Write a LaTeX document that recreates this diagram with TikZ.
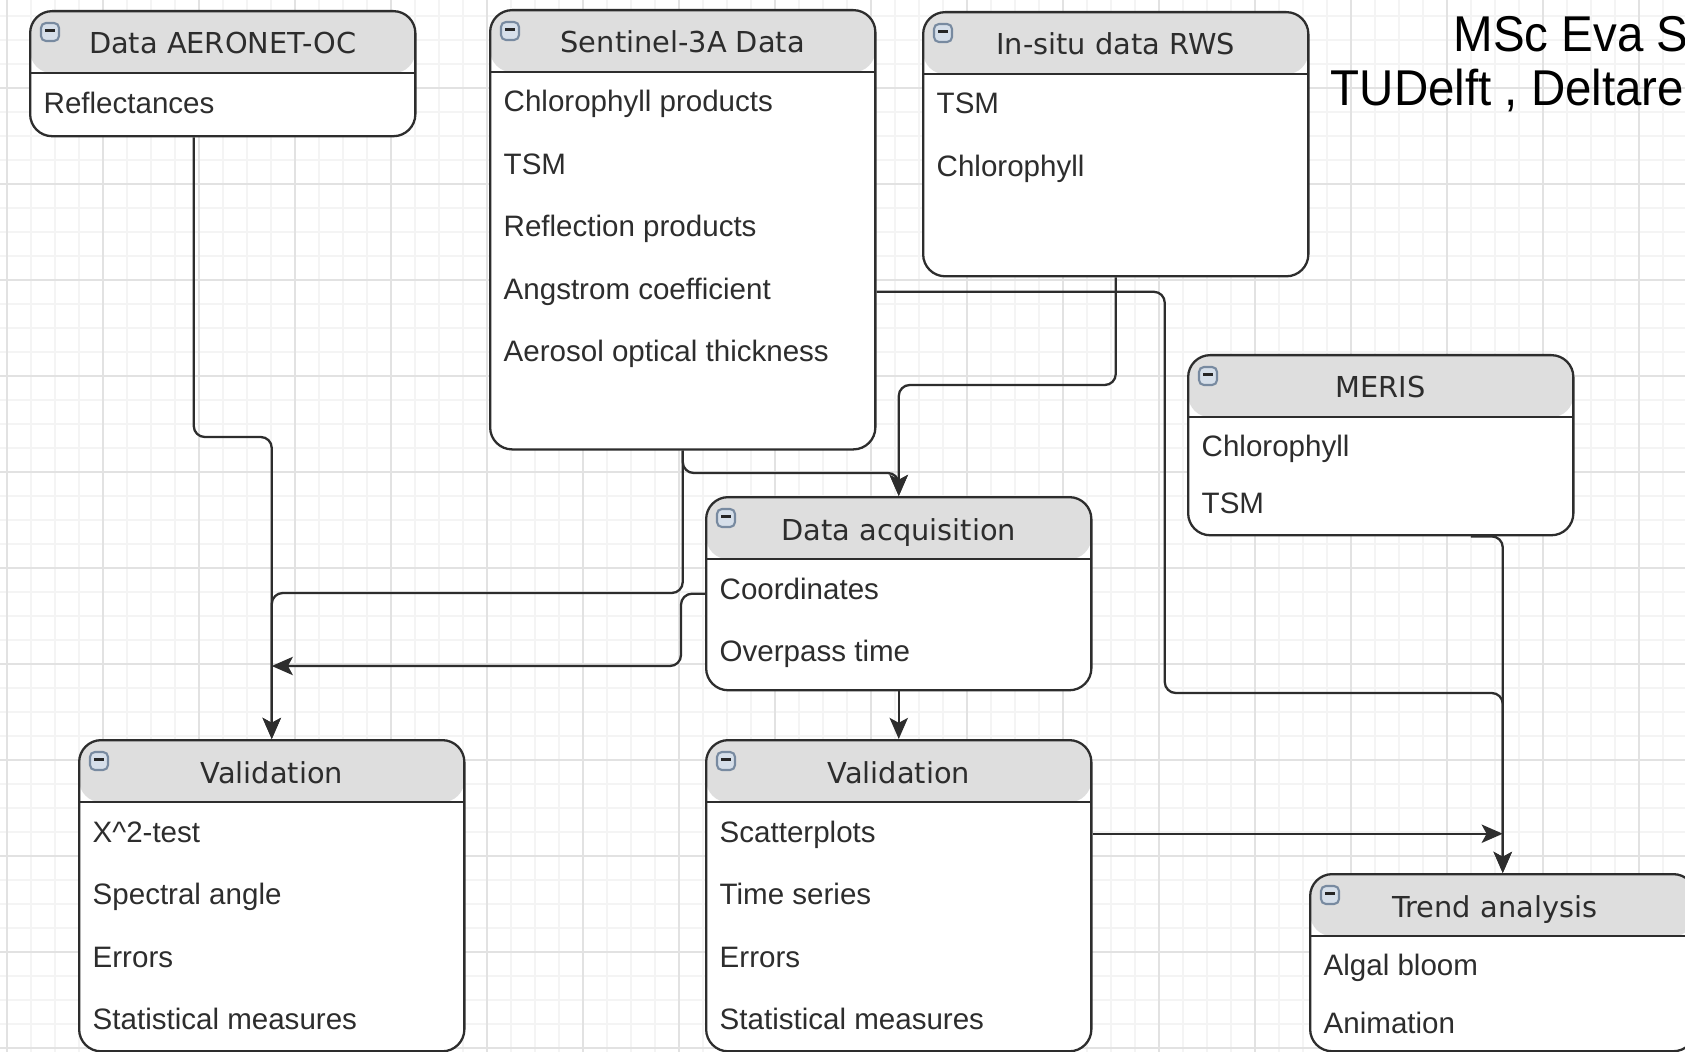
\documentclass[tikz,border=0pt]{standalone}
\usepackage{fontspec}
\setmainfont{Liberation Sans}
\newfontfamily\ttlfont{DejaVu Sans}
\newfontfamily\itemfont{Liberation Sans}
\usepackage{tikz}
\usetikzlibrary{calc}
\usetikzlibrary{arrows.meta}
\definecolor{hdrfill}{RGB}{222,222,222}
\definecolor{edge}{RGB}{45,45,45}
\definecolor{ink}{RGB}{45,45,45}
\definecolor{iconedge}{RGB}{120,138,160}
\definecolor{iconfill}{RGB}{214,223,234}
\definecolor{minorgrid}{RGB}{244,244,244}
\definecolor{majorgrid}{RGB}{226,226,226}

\begin{document}
\begin{tikzpicture}[x=0.01cm, y=-0.01cm,
    box/.style={draw=edge, line width=0.65pt, fill=white, rounded corners=0.22cm,
      minimum width=3.85cm, inner sep=0pt, anchor=north west,
      path picture={
        \fill[hdrfill] (path picture bounding box.north west) rectangle ([yshift=-0.62cm]path picture bounding box.north east);
        \draw[edge, line width=0.65pt] ([yshift=-0.62cm]path picture bounding box.north west) -- ([yshift=-0.62cm]path picture bounding box.north east);
      }},
    ttl/.style={anchor=base, inner sep=0pt, text=ink, font=\ttlfont\fontsize{8.2}{10}\selectfont},
    item/.style={anchor=base west, inner sep=0pt, text=ink, font=\itemfont\fontsize{8.4}{10}\selectfont},
    icon/.style={draw=iconedge, fill=iconfill, line width=0.6pt, rounded corners=1.4pt,
      minimum size=0.18cm, inner sep=0pt,
      path picture={\draw[black!85, line width=0.9pt] ([xshift=-0.05cm,yshift=0.015cm]path picture bounding box.center) -- ([xshift=0.05cm,yshift=0.015cm]path picture bounding box.center);}},
    arr/.style={draw=edge, line width=0.65pt, rounded corners=0.11cm, -{Stealth[length=6pt,width=5.2pt,inset=1.4pt]}},
    credit/.style={anchor=base west, inner sep=0pt, yscale=1.06, font=\fontsize{13.5}{16}\selectfont}]
    \useasboundingbox (0,0) rectangle (1685,1052);
    \clip (0,0) rectangle (1685,1052);

    % background grid
    \fill[white] (0,0) rectangle (1685,1052);
    \foreach \x in {7,31,...,1685}
      \draw[minorgrid, line width=0.4pt] (\x,0) -- (\x,1052);
    \foreach \y in {16,40,...,1052}
      \draw[minorgrid, line width=0.4pt] (0,\y) -- (1685,\y);
    \foreach \x in {7,103,...,1685}
      \draw[majorgrid, line width=0.4pt] (\x,0) -- (\x,1052);
    \foreach \y in {88,184,...,1052}
      \draw[majorgrid, line width=0.4pt] (0,\y) -- (1685,\y);

    % boxes
    \node[box, minimum height=1.25cm] (aer) at (29,10) {};
    \node[box, minimum height=4.39cm] (sent) at (489,9) {};
    \node[box, minimum height=2.64cm] (situ) at (922,11) {};
    \node[box, minimum height=1.80cm] (meris) at (1187,354) {};
    \node[box, minimum height=1.93cm] (acq) at (705,496) {};
    \node[box, minimum height=3.11cm] (vall) at (78,739) {};
    \node[box, minimum height=3.11cm] (valm) at (705,739) {};
    \node[box, minimum height=1.77cm] (trend) at (1309,873) {};

    % collapse icons
    \foreach \b in {aer,sent,situ,meris,acq,vall,valm,trend}
      \node[icon] (\b-i) at ($(\b.north west)+(21,22)$) {};

    % titles
    \node[ttl] (aer-t) at ($(aer.north)+(0,44)$) {Data AERONET-OC};
    \node[ttl] (sent-t) at ($(sent.north)+(0,44)$) {Sentinel-3A Data};
    \node[ttl] (situ-t) at ($(situ.north)+(0,44)$) {In-situ data RWS};
    \node[ttl] (meris-t) at ($(meris.north)+(0,44)$) {MERIS};
    \node[ttl] (acq-t) at ($(acq.north)+(0,44)$) {Data acquisition};
    \node[ttl] (vall-t) at ($(vall.north)+(0,44)$) {Validation};
    \node[ttl] (valm-t) at ($(valm.north)+(0,44)$) {Validation};
    \node[ttl] (trend-t) at ($(trend.north)+(-8,44)$) {Trend analysis};

    % items
    \node[item] (aer-0) at ($(aer.north west)+(14,104)$) {Reflectances};
    \foreach \t [count=\i from 0] in {Chlorophyll products, TSM, Reflection products, Angstrom coefficient, Aerosol optical thickness}
      \node[item] (sent-\i) at ($(sent.north west)+(14,{103+62.5*\i})$) {\t};
    \foreach \t [count=\i from 0] in {TSM, Chlorophyll}
      \node[item] (situ-\i) at ($(situ.north west)+(14,{103+63*\i})$) {\t};
    \foreach \t [count=\i from 0] in {Chlorophyll, TSM}
      \node[item] (meris-\i) at ($(meris.north west)+(14,{102+58*\i})$) {\t};
    \foreach \t [count=\i from 0] in {Coordinates, Overpass time}
      \node[item] (acq-\i) at ($(acq.north west)+(14,{103+62*\i})$) {\t};
    \foreach \t [count=\i from 0] in {X\textasciicircum 2-test, Spectral angle, Errors, Statistical measures}
      \node[item] (vall-\i) at ($(vall.north west)+(14,{103+62.5*\i})$) {\t};
    \foreach \t [count=\i from 0] in {Scatterplots, Time series, Errors, Statistical measures}
      \node[item] (valm-\i) at ($(valm.north west)+(14,{103+62.5*\i})$) {\t};
    \foreach \t [count=\i from 0] in {Algal bloom, Animation}
      \node[item] (trend-\i) at ($(trend.north west)+(14,{102+58*\i})$) {\t};

    % connectors
    \draw[arr] ($(aer.south)+(-29,0)$) |- ($(vall.north)+(0,-302)$) -- (vall.north);
    \draw[arr] (sent.south) |- ($(vall.north)+(0,-146)$) -- (vall.north);
    \draw[arr] (sent.south) |- ($(acq.north)+(0,-23)$) -- (acq.north);
    \draw[arr] (situ.south) |- ($(acq.north)+(0,-111)$) -- (acq.north);
    \draw[arr] ($(sent.east)+(0,62)$) -| ($(trend.north)+(-338,-180)$) -| (trend.north);
    \draw[arr] ($(meris.south)+(90,0)$) -| (trend.north);
    \draw[arr] (acq.west) -- ++(-24,0) |- ($(vall.north)+(0,-73)$);
    \draw[arr] (acq.south) -- (valm.north);
    \draw[arr] ($(valm.east)+(0,-62)$) -- ($(valm.east -| trend.north)+(0,-62)$);

    % credit
    \node[credit] (who) at (1453,52) {MSc Eva S};
    \node[credit] (where) at (1330,106) {TUDelft , Deltare};
\end{tikzpicture}
\end{document}
